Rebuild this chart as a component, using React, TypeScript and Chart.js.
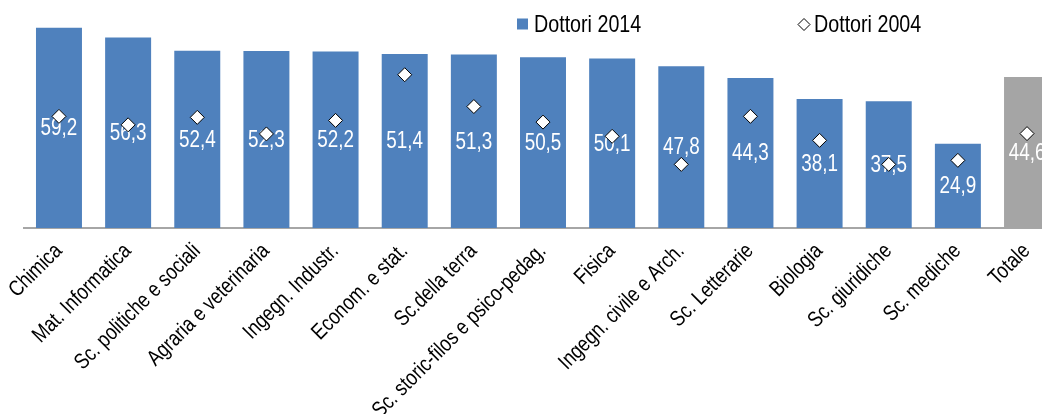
import React, { useEffect, useRef } from "react";
import { Chart, registerables } from "chart.js";

Chart.register(...registerables);

const categories = [
  "Chimica",
  "Mat. Informatica",
  "Sc. politiche e sociali",
  "Agraria e veterinaria",
  "Ingegn. Industr.",
  "Econom. e stat.",
  "Sc.della terra",
  "Sc. storic-filos e psico-pedag.",
  "Fisica",
  "Ingegn. civile e Arch.",
  "Sc. Letterarie",
  "Biologia",
  "Sc. giuridiche",
  "Sc. mediche",
  "Totale",
];

const dottori2014 = [59.2, 56.3, 52.4, 52.3, 52.2, 51.4, 51.3, 50.5, 50.1, 47.8, 44.3, 38.1, 37.5, 24.9, 44.6];
const dottori2004 = [33.0, 30.5, 32.7, 27.8, 31.8, 45.3, 35.9, 31.3, 27.1, 18.8, 33.0, 25.9, 18.8, 20.0, 27.9];

const seriesNames = ["Dottori 2014", "Dottori 2004"];

const BLUE = "#4F81BD";
const GRAY = "#A5A5A5";
const FONT = "'Liberation Sans', Arial, sans-serif";
const NARROW_X = 0.82;

function narrowText(ctx: CanvasRenderingContext2D, text: string, x: number, y: number, rot = 0) {
  ctx.save();
  ctx.translate(x, y);
  if (rot) ctx.rotate(rot);
  ctx.scale(NARROW_X, 1);
  ctx.fillText(text, 0, 0);
  ctx.restore();
}

const valueLabels = {
  id: "valueLabels",
  afterDatasetDraw(chart: any, args: any) {
    if (args.index !== 0) return;
    const ctx = chart.ctx;
    const meta = chart.getDatasetMeta(0);
    ctx.save();
    ctx.font = `23px ${FONT}`;
    ctx.fillStyle = "#FFFFFF";
    ctx.textAlign = "center";
    ctx.textBaseline = "middle";
    meta.data.forEach((bar: any, i: number) => {
      const v = dottori2014[i];
      const y = (bar.y + bar.base) / 2 + 1;
      narrowText(ctx, v.toFixed(1).replace(".", ","), bar.x, y);
    });
    ctx.restore();
  },
};

const categoryLabels = {
  id: "categoryLabels",
  afterDraw(chart: any) {
    const ctx = chart.ctx;
    const xs = chart.scales.x;
    const axisY = chart.chartArea.bottom;
    ctx.save();
    ctx.font = `22px ${FONT}`;
    ctx.fillStyle = "#000000";
    ctx.textAlign = "right";
    ctx.textBaseline = "alphabetic";
    categories.forEach((label, i) => {
      const x = xs.getPixelForTick(i);
      narrowText(ctx, label, x + 4, axisY + 24, -Math.PI / 4);
    });
    ctx.restore();
  },
};

const customLegend = {
  id: "customLegend",
  afterDraw(chart: any) {
    const ctx = chart.ctx;
    ctx.save();
    ctx.font = `24px ${FONT}`;
    ctx.textAlign = "left";
    ctx.textBaseline = "middle";
    // Dottori 2014
    ctx.fillStyle = BLUE;
    ctx.fillRect(509, 10.5, 11, 11);
    ctx.fillStyle = "#000000";
    narrowText(ctx, seriesNames[0], 526, 17);
    // Dottori 2004
    const cx = 796, cy = 16.5, r = 6;
    ctx.beginPath();
    ctx.moveTo(cx - r, cy);
    ctx.lineTo(cx, cy - r);
    ctx.lineTo(cx + r, cy);
    ctx.lineTo(cx, cy + r);
    ctx.closePath();
    ctx.fillStyle = "#FFFFFF";
    ctx.fill();
    ctx.lineWidth = 1;
    ctx.strokeStyle = "#000000";
    ctx.stroke();
    ctx.fillStyle = "#000000";
    narrowText(ctx, seriesNames[1], 806, 17);
    ctx.restore();
  },
};

export default function App() {
  const ref = useRef<HTMLCanvasElement | null>(null);
  useEffect(() => {
    if (!ref.current) return;
    const barColors = categories.map((_, i) => (i === categories.length - 1 ? GRAY : BLUE));
    const chart = new Chart(ref.current, {
      type: "bar",
      data: {
        labels: categories,
        datasets: [
          {
            type: "bar",
            label: seriesNames[0],
            data: dottori2014,
            backgroundColor: barColors,
            borderWidth: 0,
            categoryPercentage: 1,
            barPercentage: 0.665,
            order: 2,
          } as any,
          {
            type: "line",
            label: seriesNames[1],
            data: dottori2004,
            showLine: false,
            pointStyle: "rectRot",
            pointRadius: 7,
            pointHoverRadius: 7,
            pointBackgroundColor: "#FFFFFF",
            pointBorderColor: "#000000",
            pointBorderWidth: 1,
            order: 1,
          } as any,
        ],
      },
      options: {
        animation: false,
        responsive: true,
        maintainAspectRatio: false,
        layout: { padding: { left: 16.4, right: 8.4, top: 17, bottom: 10 } },
        plugins: {
          legend: { display: false },
          tooltip: { enabled: false },
        },
        scales: {
          x: {
            offset: true,
            grid: { display: false, drawTicks: false },
            border: { display: true, color: "#A6A6A6", width: 2 },
            ticks: { display: false, autoSkip: false },
            afterFit: (scale: any) => {
              scale.height = 200;
              scale.paddingLeft = 0;
              scale.paddingRight = 0;
            },
          },
          y: {
            display: false,
            min: 0,
            max: 60,
          },
        },
      },
      plugins: [valueLabels, categoryLabels, customLegend],
    });
    return () => chart.destroy();
  }, []);
  return (
    <div style={{ width: 1042, height: 406, overflow: "hidden" }}>
      <div style={{ width: 1062, height: 430, position: "relative" }}>
        <canvas ref={ref} />
      </div>
    </div>
  );
}
